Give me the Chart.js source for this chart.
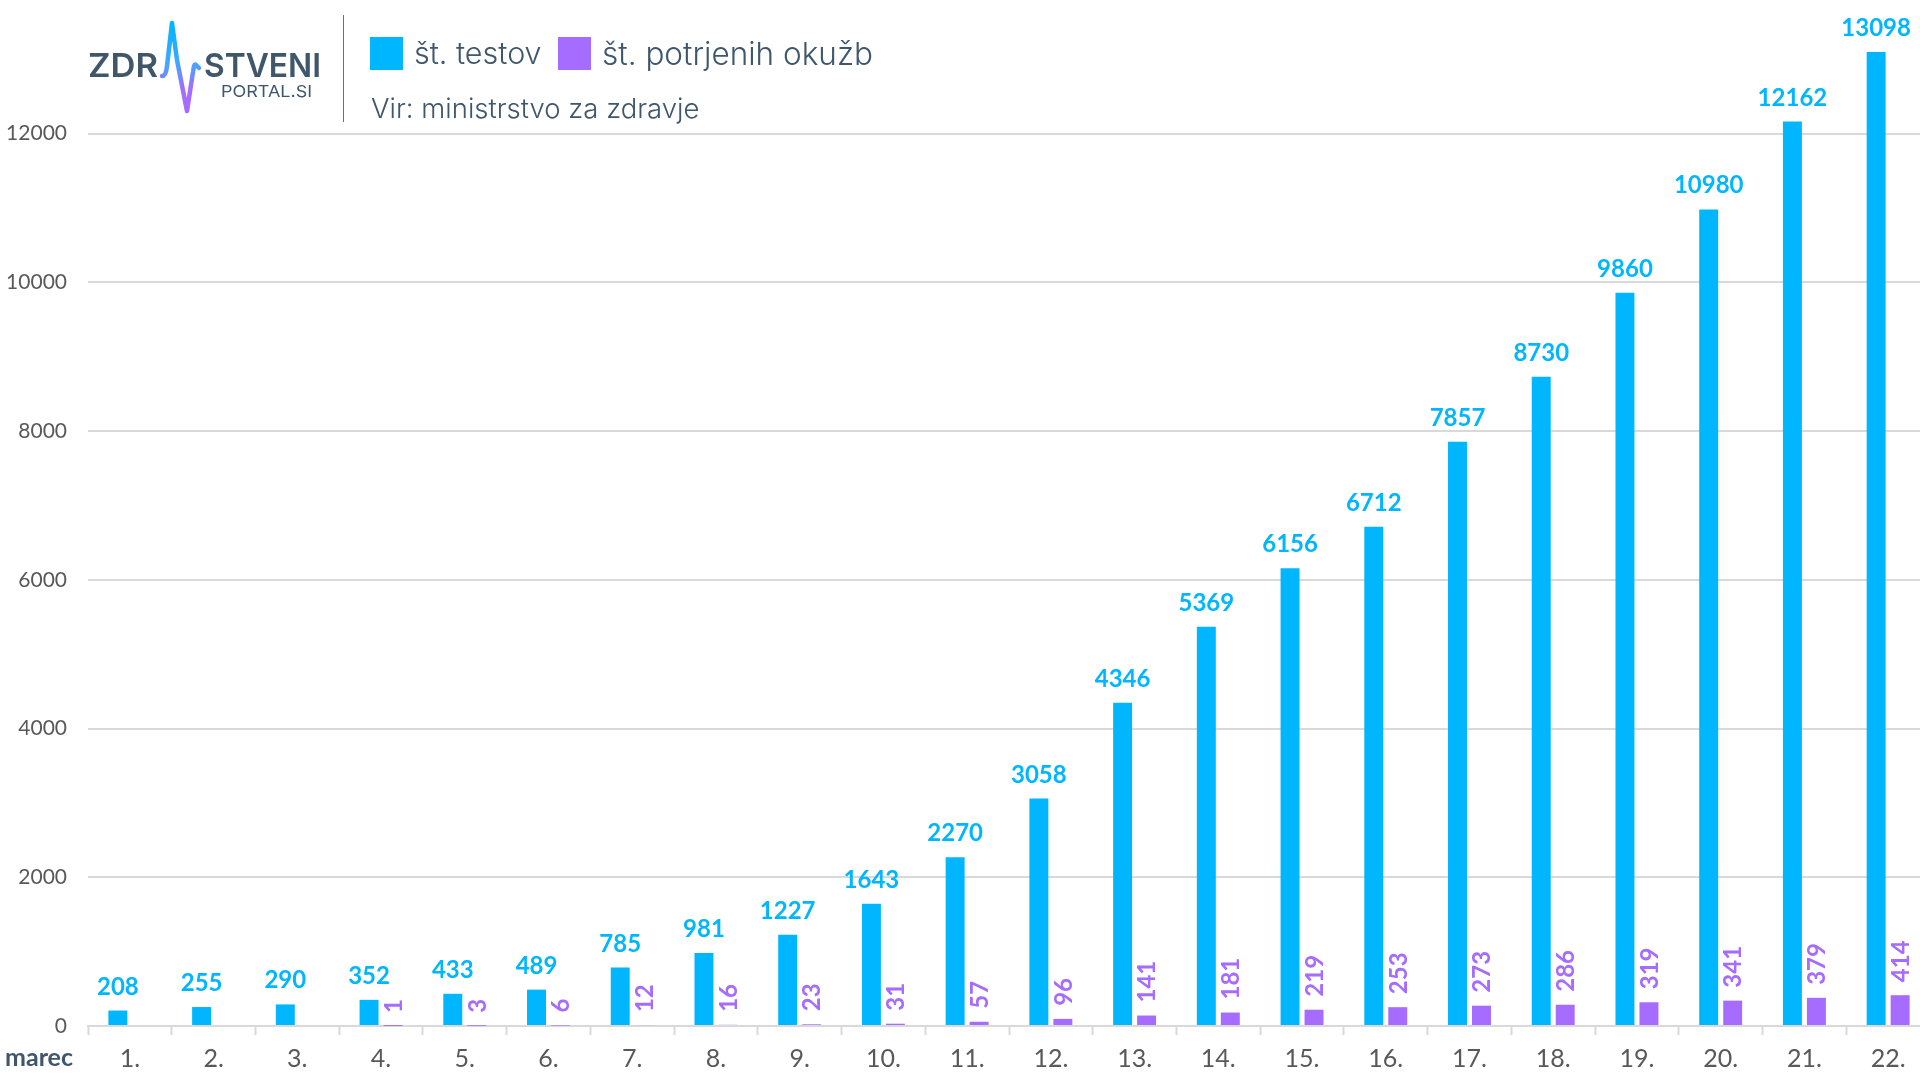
<!DOCTYPE html>
<html>
<head>
<meta charset="utf-8">
<title>Testi in okužbe</title>
<script src="https://cdn.jsdelivr.net/npm/chart.js@4"></script>
<style>
  html, body { margin: 0; padding: 0; background: #fff; width: 1920px; height: 1080px; overflow: hidden; }
  #wrap { position: relative; width: 1920px; height: 1080px; overflow: hidden; }
  #myChart { position: absolute; left: 0; top: 0; }
  .head { position: absolute; font-family: Inter, sans-serif; font-weight: 300; color: #3f566b; white-space: nowrap; line-height: 1; }
  .swatch { position: absolute; width: 33px; height: 33px; top: 37px; }
  #sep { position: absolute; left: 343px; top: 15px; width: 1px; height: 107px; background: #5d7282; }
  #logo { position: absolute; left: 0; top: 0; }
</style>
</head>
<body>
<div id="wrap">
  <canvas id="myChart" width="1930" height="1080"></canvas>
  <svg id="logo" width="340" height="130">
    <defs>
      <linearGradient id="pulse" gradientUnits="userSpaceOnUse" x1="0" y1="23" x2="0" y2="111">
        <stop offset="0" stop-color="#00b6ff"/>
        <stop offset="0.45" stop-color="#3fa8ff"/>
        <stop offset="0.75" stop-color="#a66bff"/>
      </linearGradient>
    </defs>
    <text x="88" y="77" font-family="Inter" font-weight="600" font-size="33" fill="#3f566b" textLength="70" lengthAdjust="spacingAndGlyphs">ZDR</text>
    <text x="204" y="77" font-family="Inter" font-weight="600" font-size="33" fill="#3f566b" textLength="117" lengthAdjust="spacingAndGlyphs">STVENI</text>
    <text x="221" y="97" font-family="Inter" font-weight="400" font-size="16.5" fill="#3f566b" textLength="91" lengthAdjust="spacingAndGlyphs">PORTAL.SI</text>
    <path d="M162 76 Q166 76 167 66 L172 23 L177 60 L187 111 L193 72 Q194 63 196 65 L199 68" fill="none" stroke="url(#pulse)" stroke-width="4.5" stroke-linecap="round" stroke-linejoin="round"/>
  </svg>
  <div id="sep"></div>
  <div class="swatch" id="swatchTests" style="left:370px"></div>
  <div class="head" id="nameTests" style="left:414px;top:38px;font-size:30.5px"></div>
  <div class="swatch" id="swatchCases" style="left:558px"></div>
  <div class="head" id="nameCases" style="left:602px;top:38px;font-size:31.5px"></div>
  <div class="head" style="left:371px;top:95px;font-size:27.5px">Vir: ministrstvo za zdravje</div>
</div>

<script>
  const days = ["1.", "2.", "3.", "4.", "5.", "6.", "7.", "8.", "9.", "10.", "11.", "12.", "13.", "14.", "15.", "16.", "17.", "18.", "19.", "20.", "21.", "22."];
  const tests = [208, 255, 290, 352, 433, 489, 785, 981, 1227, 1643, 2270, 3058, 4346, 5369, 6156, 6712, 7857, 8730, 9860, 10980, 12162, 13098];
  const cases = [null, null, null, 1, 3, 6, 12, 16, 23, 31, 57, 96, 141, 181, 219, 253, 273, 286, 319, 341, 379, 414];
  const yTicks = [0, 2000, 4000, 6000, 8000, 10000, 12000];
  const testsName = "št. testov";
  const casesName = "št. potrjenih okužb";
  const monthName = "marec";

  const blue = "#00b6ff";
  const purple = "#a66bff";
  const gridColor = "#d9d9d9";
  const textColor = "#595959";

  document.getElementById("swatchTests").style.background = blue;
  document.getElementById("swatchCases").style.background = purple;
  document.getElementById("nameTests").textContent = testsName;
  document.getElementById("nameCases").textContent = casesName;

  // Oznake nad stolpci in "marec" levo od osi
  const barLabels = {
    id: "barLabels",
    afterDatasetsDraw(chart) {
      const ctx = chart.ctx;
      ctx.save();
      ctx.font = "bold 24px Lato";

      // št. testov - vodoravno
      ctx.fillStyle = blue;
      ctx.textAlign = "center";
      ctx.textBaseline = "alphabetic";
      chart.getDatasetMeta(0).data.forEach((bar, i) => {
        ctx.fillText(tests[i], bar.x, bar.y - 16);
      });

      // št. potrjenih okužb - navpično
      ctx.fillStyle = purple;
      ctx.textAlign = "left";
      ctx.textBaseline = "middle";
      chart.getDatasetMeta(1).data.forEach((bar, i) => {
        if (cases[i] === null) return;
        ctx.save();
        ctx.translate(bar.x + 1, bar.y - 13);
        ctx.rotate(-Math.PI / 2);
        ctx.fillText(cases[i], 0, 0);
        ctx.restore();
      });

      ctx.fillStyle = "#3f566b";
      ctx.textAlign = "left";
      ctx.textBaseline = "alphabetic";
      ctx.font = "bold 25px Lato";
      ctx.fillText(monthName, 5, 1066);
      ctx.restore();
    },
  };

  const ctx = document.getElementById("myChart").getContext("2d");
  const myChart = new Chart(ctx, {
    type: "bar",
    plugins: [barLabels],
    data: {
      labels: days,
      datasets: [
        { label: testsName, data: tests, backgroundColor: blue, categoryPercentage: 0.573, barPercentage: 0.79 },
        { label: casesName, data: cases, backgroundColor: purple, categoryPercentage: 0.573, barPercentage: 0.79 },
      ],
    },
    options: {
      responsive: false,
      animation: false,
      devicePixelRatio: 1,
      layout: { padding: 0 },
      scales: {
        x: {
          afterFit: (scale) => { scale.height = 54; },
          grid: { drawOnChartArea: false, drawTicks: true, tickLength: 9, tickColor: gridColor, tickWidth: 2, offset: true },
          border: { color: gridColor, width: 2 },
          ticks: { color: textColor, font: { family: "Lato", size: 25 }, padding: 9, maxRotation: 0, autoSkip: false },
        },
        y: {
          min: 0,
          max: 13796,
          // padding oznak ne sme potisniti grafa navzdol
          afterFit: (scale) => { scale.width = 88; scale.paddingTop = 0; },
          afterBuildTicks: (scale) => { scale.ticks = yTicks.map((value) => ({ value })); },
          grid: { color: gridColor, lineWidth: 2, drawTicks: false },
          border: { display: false },
          ticks: { color: textColor, font: { family: "Lato", size: 21 }, padding: 21, callback: (value) => String(value) },
        },
      },
      plugins: {
        legend: { display: false },
        tooltip: { enabled: false },
      },
    },
  });
</script>
</body>
</html>
